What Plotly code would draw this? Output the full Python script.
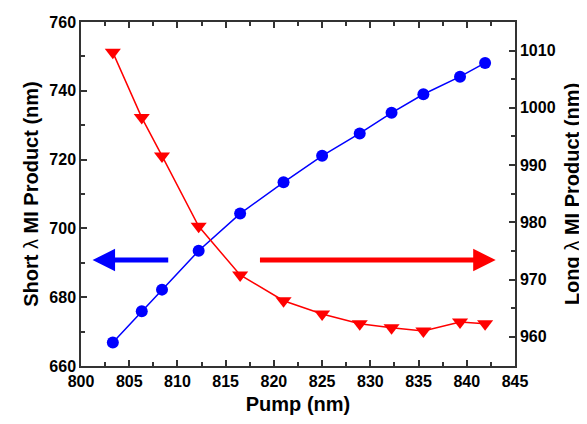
import plotly.graph_objects as go

pump_short = [803.3, 806.3, 808.4, 812.2, 816.5, 821.0, 825.0, 828.9, 832.2, 835.5, 839.3, 841.9]
short_mi = [666.8, 675.9, 682.2, 693.5, 704.3, 713.4, 721.1, 727.6, 733.6, 739.0, 744.1, 748.1]

pump_long = [803.3, 806.3, 808.4, 812.2, 816.5, 821.0, 825.0, 828.9, 832.2, 835.5, 839.3, 841.9]
long_mi = [1009.7, 998.3, 991.6, 979.3, 970.8, 966.3, 964.0, 962.3, 961.6, 961.0, 962.6, 962.3]

FONT = "Liberation Sans"

fig = go.Figure()
fig.add_trace(go.Scatter(x=pump_short, y=short_mi, mode="lines+markers",
                         line=dict(color="#0000ff", width=1.5),
                         marker=dict(symbol="circle", size=12, color="#0000ff"),
                         yaxis="y", showlegend=False))
fig.add_trace(go.Scatter(x=pump_long, y=long_mi, mode="lines+markers",
                         line=dict(color="#ff0000", width=1.5),
                         marker=dict(symbol="triangle-down", size=14, color="#ff0000"),
                         yaxis="y2", showlegend=False))

tickfont = dict(family=FONT, size=16, color="black", weight="bold")
titlefont = dict(family=FONT, size=20, color="black", weight="bold")
axcommon = dict(showgrid=False, zeroline=False, showline=True, linecolor="#333333",
                linewidth=1.5, ticks="inside", ticklen=6, tickwidth=1.5,
                tickcolor="#333333", tickfont=tickfont, ticklabeloverflow="allow")

fig.update_layout(
    width=579, height=416,
    margin=dict(l=73, r=72, t=6, b=58),
    plot_bgcolor="white", paper_bgcolor="white",
    xaxis=dict(range=[800, 845], dtick=5, mirror="ticks",
               minor=dict(ticks="inside", dtick=2.5, ticklen=4, tickwidth=1.5, tickcolor="#333333"),
               title=dict(text="Pump (nm)", font=titlefont, standoff=8), **axcommon),
    yaxis=dict(range=[660, 760], dtick=20,
               minor=dict(ticks="inside", dtick=10, ticklen=4, tickwidth=1.5, tickcolor="#333333"),
               title=dict(text="Short <span style='font-weight:normal'>λ</span> MI Product (nm)",
                          font=titlefont, standoff=5), **axcommon),
    yaxis2=dict(range=[954.9, 1015], dtick=10, tick0=960, overlaying="y", side="right",
                minor=dict(ticks="inside", dtick=5, ticklen=4, tickwidth=1.5, tickcolor="#333333"),
                title=dict(text="Long <span style='font-weight:normal'>λ</span> MI Product (nm)",
                           font=titlefont, standoff=10), **axcommon),
)

arrow_y = 690.8
fig.add_annotation(x=801.2, y=arrow_y, ax=809.2, ay=arrow_y, xref="x", yref="y",
                   axref="x", ayref="y", showarrow=True, arrowhead=2, arrowsize=0.9,
                   arrowwidth=5, arrowcolor="#0000ff", text="")
fig.add_annotation(x=843.0, y=arrow_y, ax=818.4, ay=arrow_y, xref="x", yref="y",
                   axref="x", ayref="y", showarrow=True, arrowhead=2, arrowsize=0.9,
                   arrowwidth=5, arrowcolor="#ff0000", text="")

fig.write_html("out.html")
